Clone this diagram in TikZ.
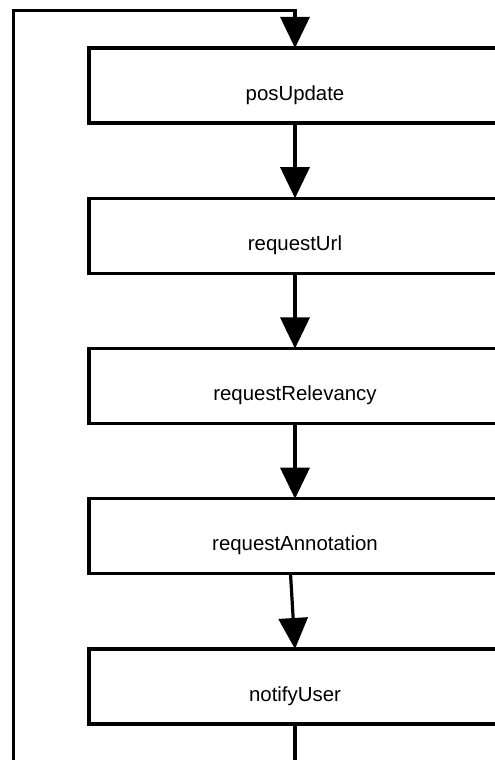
\documentclass[tikz,border=0pt]{standalone}
\usepackage{fontspec}
\setmainfont{Liberation Sans}
\usetikzlibrary{arrows.meta}
\begin{document}
\begin{tikzpicture}[x=1pt,y=1pt,
  stepbox/.style={draw, line width=3.2pt, minimum width=412pt, minimum height=75pt,
    inner sep=0pt, outer sep=0pt, text height=30pt, text depth=0.8pt,
    font=\fontsize{20.4}{24}\selectfont},
  flow/.style={line width=3.2pt, -{Triangle[length=31pt,width=29pt]}}]
\useasboundingbox (0,0) rectangle (495,760);
\clip (0,0) rectangle (495,760);
% processing steps, top to bottom
\node[stepbox] (pos)    at (295,674.5)  {posUpdate};
\node[stepbox] (url)    at (295,524.25) {requestUrl};
\node[stepbox] (rel)    at (295,374)    {requestRelevancy};
\node[stepbox] (ann)    at (295,223.75) {requestAnnotation};
\node[stepbox] (notify) at (295,73.5)   {notifyUser};
% sequence arrows
\draw[flow] (pos.south) -- (url.north);
\draw[flow] (url.south) -- (rel.north);
\draw[flow] (rel.south) -- (ann.north);
\draw[flow] ([xshift=-4.5pt]ann.south) -- (notify.north);
% loop back from the last step to the first
\coordinate (lb) at (13.5,-20);
\coordinate (lt) at (13.5,749.5);
\draw[flow] (notify.south) |- (lb) -- (lt) -| (pos.north);
\end{tikzpicture}
\end{document}
